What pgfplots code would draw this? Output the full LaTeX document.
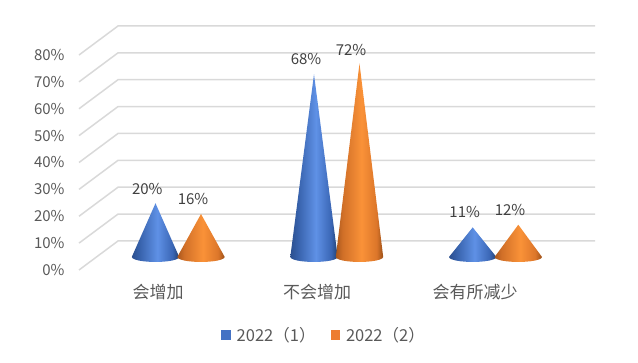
\documentclass[border=0pt]{standalone}
\usepackage{pgfplots}
\pgfplotsset{compat=1.18}
\usepackage{fontspec}
\setmainfont{Noto Sans CJK SC}
\definecolor{gridc}{HTML}{D9D9D9}
\definecolor{txtc}{HTML}{595959}
\definecolor{lblc}{HTML}{404040}
\definecolor{bluec}{HTML}{4472C4}
\definecolor{orangec}{HTML}{ED7D31}
\definecolor{ba}{HTML}{2B4F8E}
\definecolor{bb}{HTML}{355FA8}
\definecolor{bc}{HTML}{5F91E6}
\definecolor{bd}{HTML}{3A66B5}
\definecolor{be}{HTML}{22406F}
\definecolor{oa}{HTML}{A8561C}
\definecolor{ob}{HTML}{D06F28}
\definecolor{oc}{HTML}{FA9238}
\definecolor{od}{HTML}{DC762A}
\definecolor{oe}{HTML}{9A4F18}
\pgfdeclarehorizontalshading{bluecone}{100bp}{color(0bp)=(ba);color(25bp)=(ba);color(32bp)=(bb);color(52bp)=(bc);color(68bp)=(bd);color(75bp)=(be);color(100bp)=(be)}
\pgfdeclarehorizontalshading{orangecone}{100bp}{color(0bp)=(oa);color(25bp)=(oa);color(32bp)=(ob);color(52bp)=(oc);color(68bp)=(od);color(75bp)=(oe);color(100bp)=(oe)}
% centre x, value, shading
\newcommand{\cone}[3]{%
  \addplot[forget plot,draw=none,shade,shading=#3] coordinates {
    (#1+23.7,4.84) (#1,#2+4.84) (#1-23.7,4.84)
    (#1-22.9,4.36) (#1-20.5,3.91) (#1-16.8,3.53) (#1-11.85,3.23) (#1-6.1,3.05) (#1,2.98)
    (#1+6.1,3.05) (#1+11.85,3.23) (#1+16.8,3.53) (#1+20.5,3.91) (#1+22.9,4.36)
  } --cycle;}
\begin{document}
\begin{tikzpicture}[x=1pt,y=1pt]
\useasboundingbox (0,0) rectangle (638,363);
\begin{axis}[
  at={(79pt,93pt)},anchor=south west,
  scale only axis,width=516pt,height=215pt,
  xmin=79,xmax=595,ymin=0,ymax=80,
  clip=false,
  axis x line*=bottom,axis y line*=left,
  axis line style={draw=none},
  tick style={draw=none},
  ytick={0,10,...,80},
  yticklabels={0\%,10\%,20\%,30\%,40\%,50\%,60\%,70\%,80\%},
  xtick={158,317,475},
  xticklabels={会增加,不会增加,会有所减少},
  yticklabel style={font=\fontsize{15}{15}\selectfont,text=txtc,anchor=east,xshift=-11pt},
  xticklabel style={font=\fontsize{17}{17}\selectfont,text=txtc,anchor=center,yshift=-22pt},
  legend columns=2,
  legend cell align=left,
  legend style={at={(axis cs:324,-24.2)},anchor=center,draw=none,fill=none,
    font=\fontsize{16.5}{16.5}\selectfont,text=txtc,
    /tikz/every odd column/.style={column sep=4pt},
    /tikz/every even column/.style={column sep=13pt}},
  legend image code/.code={\fill[#1] (0pt,-4.7pt) rectangle (9.5pt,4.7pt);},
]
\pgfplotsinvokeforeach{0,10,...,80}{%
  \addplot[forget plot,gridc,line width=1.5pt] coordinates {(79,#1)(118,#1+10.8)(595,#1+10.8)};}
\cone{155.5}{20}{bluecone}
\cone{201}{16}{orangecone}
\cone{314}{68}{bluecone}
\cone{359.5}{72}{orangecone}
\cone{472.7}{11}{bluecone}
\cone{518.3}{12}{orangecone}
\addlegendimage{fill=bluec,draw=none}
\addlegendentry{2022（1）}
\addlegendimage{fill=orangec,draw=none}
\addlegendentry{2022（2）}
\tikzset{lab/.style={font=\fontsize{15}{15}\selectfont,text=lblc,inner sep=0pt}}
\node[lab] at (axis cs:147.3,30.1) {20\%};
\node[lab] at (axis cs:193,26.5) {16\%};
\node[lab] at (axis cs:306,78.5) {68\%};
\node[lab] at (axis cs:351,81.9) {72\%};
\node[lab] at (axis cs:464.7,21.6) {11\%};
\node[lab] at (axis cs:510,22.3) {12\%};
\end{axis}
\end{tikzpicture}
\end{document}
